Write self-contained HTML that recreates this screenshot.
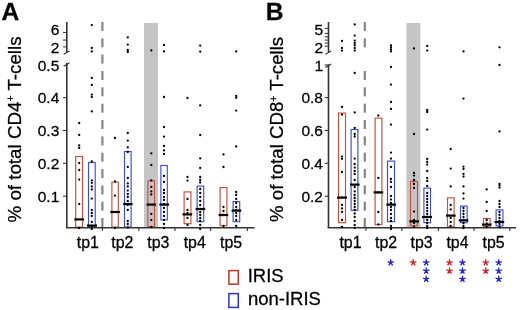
<!DOCTYPE html>
<html><head><meta charset="utf-8"><title>Figure</title>
<style>
html,body{margin:0;padding:0;background:#fff;}
body{width:520px;height:310px;overflow:hidden;}
svg{display:block;will-change:transform;}
text{font-family:"Liberation Sans",sans-serif;fill:#000;stroke:#000;stroke-width:0.27px;}
</style></head><body>
<svg width="520" height="310" viewBox="0 0 520 310">
<rect width="520" height="310" fill="#fff"/>
<g>
<rect x="144" y="23" width="14" height="204.5" fill="#c5c5c5"/>
<rect x="101.3" y="22" width="2.2" height="9.0" fill="#868686"/>
<rect x="101.3" y="38.3" width="2.2" height="9.0" fill="#868686"/>
<rect x="101.3" y="54.6" width="2.2" height="9.0" fill="#868686"/>
<rect x="101.3" y="71" width="2.2" height="9.0" fill="#868686"/>
<rect x="101.3" y="87.3" width="2.2" height="9.0" fill="#868686"/>
<rect x="101.3" y="103.7" width="2.2" height="9.0" fill="#868686"/>
<rect x="101.3" y="120" width="2.2" height="9.0" fill="#868686"/>
<rect x="101.3" y="136.4" width="2.2" height="9.0" fill="#868686"/>
<rect x="101.3" y="152.7" width="2.2" height="9.0" fill="#868686"/>
<rect x="101.3" y="169" width="2.2" height="9.0" fill="#868686"/>
<rect x="101.3" y="185.4" width="2.2" height="9.0" fill="#868686"/>
<rect x="101.3" y="201.7" width="2.2" height="9.0" fill="#868686"/>
<rect x="101.3" y="218" width="2.2" height="9.0" fill="#868686"/>
<rect x="75.7" y="156.5" width="6.8" height="70.6" fill="none" stroke="#c2503c" stroke-width="1.15"/>
<rect x="88.5" y="162.5" width="6.7" height="64.6" fill="none" stroke="#3e4ecb" stroke-width="1.15"/>
<rect x="111.9" y="182.1" width="6.4" height="45.0" fill="none" stroke="#c2503c" stroke-width="1.15"/>
<rect x="124.5" y="151.5" width="6.6" height="75.6" fill="none" stroke="#3e4ecb" stroke-width="1.15"/>
<rect x="147.9" y="180.9" width="6.6" height="45.8" fill="none" stroke="#c2503c" stroke-width="1.15"/>
<rect x="160.9" y="165.5" width="6.4" height="54.4" fill="none" stroke="#3e4ecb" stroke-width="1.15"/>
<rect x="184.1" y="191.9" width="6.8" height="31.8" fill="none" stroke="#c2503c" stroke-width="1.15"/>
<rect x="197.1" y="186.1" width="6.6" height="35.6" fill="none" stroke="#3e4ecb" stroke-width="1.15"/>
<rect x="220.1" y="187.5" width="6.8" height="38.2" fill="none" stroke="#c2503c" stroke-width="1.15"/>
<rect x="233.1" y="201.5" width="6.6" height="20.2" fill="none" stroke="#3e4ecb" stroke-width="1.15"/>
<path d="M66.8 22V52 M66.8 63.1V228" stroke="#333" stroke-width="1.6" fill="none"/>
<path d="M63.7 54.3L69.5 51 M63.7 66.2L69.5 62.8" stroke="#333" stroke-width="1.2" fill="none"/>
<path d="M65.9 227.8H254.5" stroke="#333" stroke-width="1.4" fill="none"/>
<path d="M102.4 227V231" stroke="#333" stroke-width="1.1"/>
<path d="M138.8 227V231" stroke="#333" stroke-width="1.1"/>
<path d="M175 227V231" stroke="#333" stroke-width="1.1"/>
<path d="M210.6 227V231" stroke="#333" stroke-width="1.1"/>
<path d="M247.4 227V231" stroke="#333" stroke-width="1.1"/>
<path d="M63.0 97.6H66.5" stroke="#333" stroke-width="1.1"/>
<path d="M63.0 130.5H66.5" stroke="#333" stroke-width="1.1"/>
<path d="M63.0 163.3H66.5" stroke="#333" stroke-width="1.1"/>
<path d="M63.0 196.2H66.5" stroke="#333" stroke-width="1.1"/>
<path d="M63.0 32.6H66.5" stroke="#333" stroke-width="1"/>
<path d="M63.0 40.1H66.5" stroke="#333" stroke-width="1"/>
<path d="M63.0 46.9H66.5" stroke="#333" stroke-width="1"/>
<circle cx="79.2" cy="123.0" r="1.15" fill="#000"/>
<circle cx="79.2" cy="135.0" r="1.15" fill="#000"/>
<circle cx="79.2" cy="145.4" r="1.15" fill="#000"/>
<circle cx="79.2" cy="148.0" r="1.15" fill="#000"/>
<circle cx="79.2" cy="163.0" r="1.15" fill="#000"/>
<circle cx="79.2" cy="170.0" r="1.15" fill="#000"/>
<circle cx="79.2" cy="179.6" r="1.15" fill="#000"/>
<circle cx="79.2" cy="204.0" r="1.15" fill="#000"/>
<circle cx="79.2" cy="228.0" r="1.15" fill="#000"/>
<circle cx="91.8" cy="25.1" r="1.15" fill="#000"/>
<circle cx="91.8" cy="48.0" r="1.15" fill="#000"/>
<circle cx="91.8" cy="51.4" r="1.15" fill="#000"/>
<circle cx="91.8" cy="78.0" r="1.15" fill="#000"/>
<circle cx="91.8" cy="85.0" r="1.15" fill="#000"/>
<circle cx="91.8" cy="94.6" r="1.15" fill="#000"/>
<circle cx="91.8" cy="97.0" r="1.15" fill="#000"/>
<circle cx="91.8" cy="111.4" r="1.15" fill="#000"/>
<circle cx="91.8" cy="161.5" r="1.15" fill="#000"/>
<circle cx="91.8" cy="180.4" r="1.15" fill="#000"/>
<circle cx="91.8" cy="182.8" r="1.15" fill="#000"/>
<circle cx="91.8" cy="186.4" r="1.15" fill="#000"/>
<circle cx="91.8" cy="189.4" r="1.15" fill="#000"/>
<circle cx="91.8" cy="198.6" r="1.15" fill="#000"/>
<circle cx="91.8" cy="210.0" r="1.15" fill="#000"/>
<circle cx="91.8" cy="213.0" r="1.15" fill="#000"/>
<circle cx="91.8" cy="216.0" r="1.15" fill="#000"/>
<circle cx="91.8" cy="222.0" r="1.15" fill="#000"/>
<circle cx="91.8" cy="226.0" r="1.15" fill="#000"/>
<circle cx="91.8" cy="229.0" r="1.15" fill="#000"/>
<circle cx="115.0" cy="138.0" r="1.15" fill="#000"/>
<circle cx="115.0" cy="181.4" r="1.15" fill="#000"/>
<circle cx="115.0" cy="195.6" r="1.15" fill="#000"/>
<circle cx="115.0" cy="228.0" r="1.15" fill="#000"/>
<circle cx="127.8" cy="37.4" r="1.15" fill="#000"/>
<circle cx="127.8" cy="44.6" r="1.15" fill="#000"/>
<circle cx="127.8" cy="50.0" r="1.15" fill="#000"/>
<circle cx="127.8" cy="52.0" r="1.15" fill="#000"/>
<circle cx="127.8" cy="133.0" r="1.15" fill="#000"/>
<circle cx="127.8" cy="140.6" r="1.15" fill="#000"/>
<circle cx="127.8" cy="147.4" r="1.15" fill="#000"/>
<circle cx="127.8" cy="152.0" r="1.15" fill="#000"/>
<circle cx="127.8" cy="167.0" r="1.15" fill="#000"/>
<circle cx="127.8" cy="178.0" r="1.15" fill="#000"/>
<circle cx="127.8" cy="183.4" r="1.15" fill="#000"/>
<circle cx="127.8" cy="186.4" r="1.15" fill="#000"/>
<circle cx="127.8" cy="190.6" r="1.15" fill="#000"/>
<circle cx="127.8" cy="194.0" r="1.15" fill="#000"/>
<circle cx="127.8" cy="197.0" r="1.15" fill="#000"/>
<circle cx="127.8" cy="201.0" r="1.15" fill="#000"/>
<circle cx="127.8" cy="205.0" r="1.15" fill="#000"/>
<circle cx="127.8" cy="210.0" r="1.15" fill="#000"/>
<circle cx="127.8" cy="221.0" r="1.15" fill="#000"/>
<circle cx="127.8" cy="224.0" r="1.15" fill="#000"/>
<circle cx="127.8" cy="227.5" r="1.15" fill="#000"/>
<circle cx="151.3" cy="50.4" r="1.15" fill="#000"/>
<circle cx="151.3" cy="153.4" r="1.15" fill="#000"/>
<circle cx="151.3" cy="165.0" r="1.15" fill="#000"/>
<circle cx="151.3" cy="180.4" r="1.15" fill="#000"/>
<circle cx="151.3" cy="187.0" r="1.15" fill="#000"/>
<circle cx="151.3" cy="191.4" r="1.15" fill="#000"/>
<circle cx="151.3" cy="194.5" r="1.15" fill="#000"/>
<circle cx="151.3" cy="214.0" r="1.15" fill="#000"/>
<circle cx="151.3" cy="220.0" r="1.15" fill="#000"/>
<circle cx="151.3" cy="227.0" r="1.15" fill="#000"/>
<circle cx="164.0" cy="45.0" r="1.15" fill="#000"/>
<circle cx="164.0" cy="51.4" r="1.15" fill="#000"/>
<circle cx="164.0" cy="97.0" r="1.15" fill="#000"/>
<circle cx="164.0" cy="127.0" r="1.15" fill="#000"/>
<circle cx="164.0" cy="136.6" r="1.15" fill="#000"/>
<circle cx="164.0" cy="146.0" r="1.15" fill="#000"/>
<circle cx="164.0" cy="150.4" r="1.15" fill="#000"/>
<circle cx="164.0" cy="154.0" r="1.15" fill="#000"/>
<circle cx="164.0" cy="176.0" r="1.15" fill="#000"/>
<circle cx="164.0" cy="182.0" r="1.15" fill="#000"/>
<circle cx="164.0" cy="190.0" r="1.15" fill="#000"/>
<circle cx="164.0" cy="193.0" r="1.15" fill="#000"/>
<circle cx="164.0" cy="197.0" r="1.15" fill="#000"/>
<circle cx="164.0" cy="200.0" r="1.15" fill="#000"/>
<circle cx="164.0" cy="204.0" r="1.15" fill="#000"/>
<circle cx="164.0" cy="208.0" r="1.15" fill="#000"/>
<circle cx="164.0" cy="212.0" r="1.15" fill="#000"/>
<circle cx="164.0" cy="216.0" r="1.15" fill="#000"/>
<circle cx="164.0" cy="220.0" r="1.15" fill="#000"/>
<circle cx="164.0" cy="224.0" r="1.15" fill="#000"/>
<circle cx="164.0" cy="228.0" r="1.15" fill="#000"/>
<circle cx="187.5" cy="98.0" r="1.15" fill="#000"/>
<circle cx="187.5" cy="177.0" r="1.15" fill="#000"/>
<circle cx="187.5" cy="180.6" r="1.15" fill="#000"/>
<circle cx="187.5" cy="199.0" r="1.15" fill="#000"/>
<circle cx="187.5" cy="210.0" r="1.15" fill="#000"/>
<circle cx="187.5" cy="213.0" r="1.15" fill="#000"/>
<circle cx="187.5" cy="218.0" r="1.15" fill="#000"/>
<circle cx="187.5" cy="225.0" r="1.15" fill="#000"/>
<circle cx="200.2" cy="45.6" r="1.15" fill="#000"/>
<circle cx="200.2" cy="51.6" r="1.15" fill="#000"/>
<circle cx="200.2" cy="105.4" r="1.15" fill="#000"/>
<circle cx="200.2" cy="135.0" r="1.15" fill="#000"/>
<circle cx="200.2" cy="158.4" r="1.15" fill="#000"/>
<circle cx="200.2" cy="168.0" r="1.15" fill="#000"/>
<circle cx="200.2" cy="177.0" r="1.15" fill="#000"/>
<circle cx="200.2" cy="180.0" r="1.15" fill="#000"/>
<circle cx="200.2" cy="182.5" r="1.15" fill="#000"/>
<circle cx="200.2" cy="189.0" r="1.15" fill="#000"/>
<circle cx="200.2" cy="193.0" r="1.15" fill="#000"/>
<circle cx="200.2" cy="197.0" r="1.15" fill="#000"/>
<circle cx="200.2" cy="201.0" r="1.15" fill="#000"/>
<circle cx="200.2" cy="205.0" r="1.15" fill="#000"/>
<circle cx="200.2" cy="209.0" r="1.15" fill="#000"/>
<circle cx="200.2" cy="212.0" r="1.15" fill="#000"/>
<circle cx="200.2" cy="215.0" r="1.15" fill="#000"/>
<circle cx="200.2" cy="218.0" r="1.15" fill="#000"/>
<circle cx="200.2" cy="221.0" r="1.15" fill="#000"/>
<circle cx="200.2" cy="225.0" r="1.15" fill="#000"/>
<circle cx="200.2" cy="229.0" r="1.15" fill="#000"/>
<circle cx="223.5" cy="154.4" r="1.15" fill="#000"/>
<circle cx="223.5" cy="167.0" r="1.15" fill="#000"/>
<circle cx="223.5" cy="207.0" r="1.15" fill="#000"/>
<circle cx="223.5" cy="211.0" r="1.15" fill="#000"/>
<circle cx="223.5" cy="215.0" r="1.15" fill="#000"/>
<circle cx="223.5" cy="226.0" r="1.15" fill="#000"/>
<circle cx="236.2" cy="51.4" r="1.15" fill="#000"/>
<circle cx="236.2" cy="96.0" r="1.15" fill="#000"/>
<circle cx="236.2" cy="97.8" r="1.15" fill="#000"/>
<circle cx="236.2" cy="110.6" r="1.15" fill="#000"/>
<circle cx="236.2" cy="146.5" r="1.15" fill="#000"/>
<circle cx="236.2" cy="192.0" r="1.15" fill="#000"/>
<circle cx="236.2" cy="195.0" r="1.15" fill="#000"/>
<circle cx="236.2" cy="199.0" r="1.15" fill="#000"/>
<circle cx="236.2" cy="203.0" r="1.15" fill="#000"/>
<circle cx="236.2" cy="207.0" r="1.15" fill="#000"/>
<circle cx="236.2" cy="210.0" r="1.15" fill="#000"/>
<circle cx="236.2" cy="213.0" r="1.15" fill="#000"/>
<circle cx="236.2" cy="216.0" r="1.15" fill="#000"/>
<circle cx="236.2" cy="220.0" r="1.15" fill="#000"/>
<circle cx="236.2" cy="226.0" r="1.15" fill="#000"/>
<rect x="74.4" y="218.3" width="9.6" height="2.2" fill="#000"/>
<rect x="87.0" y="224.5" width="10.0" height="2.2" fill="#000"/>
<rect x="110.4" y="210.9" width="9.6" height="2.2" fill="#000"/>
<rect x="123.2" y="202.9" width="9.4" height="2.2" fill="#000"/>
<rect x="146.6" y="203.5" width="9.4" height="2.2" fill="#000"/>
<rect x="159.4" y="203.5" width="9.6" height="2.2" fill="#000"/>
<rect x="182.6" y="213.3" width="9.6" height="2.2" fill="#000"/>
<rect x="195.6" y="207.9" width="9.6" height="2.2" fill="#000"/>
<rect x="218.6" y="213.9" width="9.6" height="2.2" fill="#000"/>
<rect x="231.6" y="209.5" width="9.6" height="2.2" fill="#000"/>
<text x="59.3" y="70.6" font-size="15.5" text-anchor="end">0.5</text>
<text x="59.3" y="103.4" font-size="15.5" text-anchor="end">0.4</text>
<text x="59.3" y="136.4" font-size="15.5" text-anchor="end">0.3</text>
<text x="59.3" y="169.2" font-size="15.5" text-anchor="end">0.2</text>
<text x="59.3" y="202.1" font-size="15.5" text-anchor="end">0.1</text>
<text x="59.3" y="35.2" font-size="15.5" text-anchor="end">6</text>
<text x="59.3" y="52.5" font-size="15.5" text-anchor="end">2</text>
<text x="76.8" y="247.8" font-size="15.9">tp1</text>
<text x="111.3" y="247.8" font-size="15.9">tp2</text>
<text x="147.3" y="247.8" font-size="15.9">tp3</text>
<text x="183.7" y="247.8" font-size="15.9">tp4</text>
<text x="220.1" y="247.8" font-size="15.9">tp5</text>
</g>
<g>
<rect x="406.4" y="23" width="14.0" height="204.5" fill="#c5c5c5"/>
<rect x="363.7" y="22" width="2.2" height="9.0" fill="#868686"/>
<rect x="363.7" y="38.3" width="2.2" height="9.0" fill="#868686"/>
<rect x="363.7" y="71" width="2.2" height="9.0" fill="#868686"/>
<rect x="363.7" y="87.3" width="2.2" height="9.0" fill="#868686"/>
<rect x="363.7" y="103.7" width="2.2" height="9.0" fill="#868686"/>
<rect x="363.7" y="120" width="2.2" height="9.0" fill="#868686"/>
<rect x="363.7" y="136.4" width="2.2" height="9.0" fill="#868686"/>
<rect x="363.7" y="152.7" width="2.2" height="9.0" fill="#868686"/>
<rect x="363.7" y="169" width="2.2" height="9.0" fill="#868686"/>
<rect x="363.7" y="185.4" width="2.2" height="9.0" fill="#868686"/>
<rect x="363.7" y="201.7" width="2.2" height="9.0" fill="#868686"/>
<rect x="363.7" y="218" width="2.2" height="9.0" fill="#868686"/>
<rect x="338.5" y="113.1" width="7.0" height="109.6" fill="none" stroke="#c2503c" stroke-width="1.15"/>
<rect x="351.1" y="129.5" width="6.8" height="80.8" fill="none" stroke="#3e4ecb" stroke-width="1.15"/>
<rect x="375.1" y="118.1" width="6.8" height="106.6" fill="none" stroke="#c2503c" stroke-width="1.15"/>
<rect x="387.5" y="161.1" width="7.0" height="60.6" fill="none" stroke="#3e4ecb" stroke-width="1.15"/>
<rect x="410.5" y="181.5" width="7.0" height="44.2" fill="none" stroke="#c2503c" stroke-width="1.15"/>
<rect x="423.9" y="188.1" width="6.6" height="34.6" fill="none" stroke="#3e4ecb" stroke-width="1.15"/>
<rect x="447.5" y="197.9" width="6.6" height="28.8" fill="none" stroke="#c2503c" stroke-width="1.15"/>
<rect x="460.5" y="206.1" width="6.6" height="16.6" fill="none" stroke="#3e4ecb" stroke-width="1.15"/>
<rect x="483.5" y="218.5" width="6.6" height="8.2" fill="none" stroke="#c2503c" stroke-width="1.15"/>
<rect x="496.1" y="209.9" width="6.8" height="16.0" fill="none" stroke="#3e4ecb" stroke-width="1.15"/>
<path d="M328.5 22V52 M328.5 64.3V228" stroke="#333" stroke-width="1.6" fill="none"/>
<path d="M325.4 54.3L331.2 51 M325.4 67.4L331.2 64.0" stroke="#333" stroke-width="1.2" fill="none"/>
<path d="M324.7 65H328.2" stroke="#333" stroke-width="1.1"/>
<path d="M327.59999999999997 227.8H516" stroke="#333" stroke-width="1.4" fill="none"/>
<path d="M366 227V231" stroke="#333" stroke-width="1.1"/>
<path d="M401.8 227V231" stroke="#333" stroke-width="1.1"/>
<path d="M438.4 227V231" stroke="#333" stroke-width="1.1"/>
<path d="M474 227V231" stroke="#333" stroke-width="1.1"/>
<path d="M509.8 227V231" stroke="#333" stroke-width="1.1"/>
<path d="M324.7 97.6H328.2" stroke="#333" stroke-width="1.1"/>
<path d="M324.7 130.5H328.2" stroke="#333" stroke-width="1.1"/>
<path d="M324.7 163.3H328.2" stroke="#333" stroke-width="1.1"/>
<path d="M324.7 196.2H328.2" stroke="#333" stroke-width="1.1"/>
<path d="M324.7 28.4H328.2" stroke="#333" stroke-width="1"/>
<path d="M324.7 33.4H328.2" stroke="#333" stroke-width="1"/>
<path d="M324.7 36.8H328.2" stroke="#333" stroke-width="1"/>
<path d="M324.7 40.1H328.2" stroke="#333" stroke-width="1"/>
<path d="M324.7 43H328.2" stroke="#333" stroke-width="1"/>
<path d="M324.7 46.2H328.2" stroke="#333" stroke-width="1"/>
<circle cx="342.0" cy="41.0" r="1.15" fill="#000"/>
<circle cx="342.0" cy="48.0" r="1.15" fill="#000"/>
<circle cx="342.0" cy="50.6" r="1.15" fill="#000"/>
<circle cx="342.0" cy="107.0" r="1.15" fill="#000"/>
<circle cx="342.0" cy="114.6" r="1.15" fill="#000"/>
<circle cx="342.0" cy="156.6" r="1.15" fill="#000"/>
<circle cx="342.0" cy="158.8" r="1.15" fill="#000"/>
<circle cx="342.0" cy="172.0" r="1.15" fill="#000"/>
<circle cx="342.0" cy="197.6" r="1.15" fill="#000"/>
<circle cx="342.0" cy="205.0" r="1.15" fill="#000"/>
<circle cx="342.0" cy="208.4" r="1.15" fill="#000"/>
<circle cx="342.0" cy="212.0" r="1.15" fill="#000"/>
<circle cx="342.0" cy="220.0" r="1.15" fill="#000"/>
<circle cx="342.0" cy="227.0" r="1.15" fill="#000"/>
<circle cx="354.7" cy="24.4" r="1.15" fill="#000"/>
<circle cx="354.7" cy="35.6" r="1.15" fill="#000"/>
<circle cx="354.7" cy="40.6" r="1.15" fill="#000"/>
<circle cx="354.7" cy="43.0" r="1.15" fill="#000"/>
<circle cx="354.7" cy="45.2" r="1.15" fill="#000"/>
<circle cx="354.7" cy="48.0" r="1.15" fill="#000"/>
<circle cx="354.7" cy="50.6" r="1.15" fill="#000"/>
<circle cx="354.7" cy="73.0" r="1.15" fill="#000"/>
<circle cx="354.7" cy="112.4" r="1.15" fill="#000"/>
<circle cx="354.7" cy="128.0" r="1.15" fill="#000"/>
<circle cx="354.7" cy="134.0" r="1.15" fill="#000"/>
<circle cx="354.7" cy="136.5" r="1.15" fill="#000"/>
<circle cx="354.7" cy="158.6" r="1.15" fill="#000"/>
<circle cx="354.7" cy="164.0" r="1.15" fill="#000"/>
<circle cx="354.7" cy="167.6" r="1.15" fill="#000"/>
<circle cx="354.7" cy="171.0" r="1.15" fill="#000"/>
<circle cx="354.7" cy="174.0" r="1.15" fill="#000"/>
<circle cx="354.7" cy="180.0" r="1.15" fill="#000"/>
<circle cx="354.7" cy="187.0" r="1.15" fill="#000"/>
<circle cx="354.7" cy="191.4" r="1.15" fill="#000"/>
<circle cx="354.7" cy="195.0" r="1.15" fill="#000"/>
<circle cx="354.7" cy="198.0" r="1.15" fill="#000"/>
<circle cx="354.7" cy="201.0" r="1.15" fill="#000"/>
<circle cx="354.7" cy="204.0" r="1.15" fill="#000"/>
<circle cx="354.7" cy="207.0" r="1.15" fill="#000"/>
<circle cx="354.7" cy="210.0" r="1.15" fill="#000"/>
<circle cx="354.7" cy="213.5" r="1.15" fill="#000"/>
<circle cx="354.7" cy="217.0" r="1.15" fill="#000"/>
<circle cx="354.7" cy="221.0" r="1.15" fill="#000"/>
<circle cx="354.7" cy="225.0" r="1.15" fill="#000"/>
<circle cx="354.7" cy="228.0" r="1.15" fill="#000"/>
<circle cx="378.3" cy="115.5" r="1.15" fill="#000"/>
<circle cx="378.3" cy="178.0" r="1.15" fill="#000"/>
<circle cx="378.3" cy="192.4" r="1.15" fill="#000"/>
<circle cx="378.3" cy="212.0" r="1.15" fill="#000"/>
<circle cx="378.3" cy="224.4" r="1.15" fill="#000"/>
<circle cx="391.0" cy="45.4" r="1.15" fill="#000"/>
<circle cx="391.0" cy="47.4" r="1.15" fill="#000"/>
<circle cx="391.0" cy="49.4" r="1.15" fill="#000"/>
<circle cx="391.0" cy="51.4" r="1.15" fill="#000"/>
<circle cx="391.0" cy="67.0" r="1.15" fill="#000"/>
<circle cx="391.0" cy="84.6" r="1.15" fill="#000"/>
<circle cx="391.0" cy="102.0" r="1.15" fill="#000"/>
<circle cx="391.0" cy="109.0" r="1.15" fill="#000"/>
<circle cx="391.0" cy="124.6" r="1.15" fill="#000"/>
<circle cx="391.0" cy="152.6" r="1.15" fill="#000"/>
<circle cx="391.0" cy="158.6" r="1.15" fill="#000"/>
<circle cx="391.0" cy="167.0" r="1.15" fill="#000"/>
<circle cx="391.0" cy="179.0" r="1.15" fill="#000"/>
<circle cx="391.0" cy="182.0" r="1.15" fill="#000"/>
<circle cx="391.0" cy="187.0" r="1.15" fill="#000"/>
<circle cx="391.0" cy="196.0" r="1.15" fill="#000"/>
<circle cx="391.0" cy="199.6" r="1.15" fill="#000"/>
<circle cx="391.0" cy="203.0" r="1.15" fill="#000"/>
<circle cx="391.0" cy="207.0" r="1.15" fill="#000"/>
<circle cx="391.0" cy="210.0" r="1.15" fill="#000"/>
<circle cx="391.0" cy="214.0" r="1.15" fill="#000"/>
<circle cx="391.0" cy="218.0" r="1.15" fill="#000"/>
<circle cx="391.0" cy="221.0" r="1.15" fill="#000"/>
<circle cx="391.0" cy="226.0" r="1.15" fill="#000"/>
<circle cx="391.0" cy="229.0" r="1.15" fill="#000"/>
<circle cx="414.0" cy="48.4" r="1.15" fill="#000"/>
<circle cx="414.0" cy="134.0" r="1.15" fill="#000"/>
<circle cx="414.0" cy="173.0" r="1.15" fill="#000"/>
<circle cx="414.0" cy="175.6" r="1.15" fill="#000"/>
<circle cx="414.0" cy="180.0" r="1.15" fill="#000"/>
<circle cx="414.0" cy="184.0" r="1.15" fill="#000"/>
<circle cx="414.0" cy="188.0" r="1.15" fill="#000"/>
<circle cx="414.0" cy="211.6" r="1.15" fill="#000"/>
<circle cx="414.0" cy="220.0" r="1.15" fill="#000"/>
<circle cx="414.0" cy="223.0" r="1.15" fill="#000"/>
<circle cx="414.0" cy="227.0" r="1.15" fill="#000"/>
<circle cx="427.2" cy="46.0" r="1.15" fill="#000"/>
<circle cx="427.2" cy="50.6" r="1.15" fill="#000"/>
<circle cx="427.2" cy="110.0" r="1.15" fill="#000"/>
<circle cx="427.2" cy="112.0" r="1.15" fill="#000"/>
<circle cx="427.2" cy="129.6" r="1.15" fill="#000"/>
<circle cx="427.2" cy="159.0" r="1.15" fill="#000"/>
<circle cx="427.2" cy="162.0" r="1.15" fill="#000"/>
<circle cx="427.2" cy="164.6" r="1.15" fill="#000"/>
<circle cx="427.2" cy="171.0" r="1.15" fill="#000"/>
<circle cx="427.2" cy="178.0" r="1.15" fill="#000"/>
<circle cx="427.2" cy="181.0" r="1.15" fill="#000"/>
<circle cx="427.2" cy="186.0" r="1.15" fill="#000"/>
<circle cx="427.2" cy="193.0" r="1.15" fill="#000"/>
<circle cx="427.2" cy="196.0" r="1.15" fill="#000"/>
<circle cx="427.2" cy="199.0" r="1.15" fill="#000"/>
<circle cx="427.2" cy="202.0" r="1.15" fill="#000"/>
<circle cx="427.2" cy="205.0" r="1.15" fill="#000"/>
<circle cx="427.2" cy="208.0" r="1.15" fill="#000"/>
<circle cx="427.2" cy="211.0" r="1.15" fill="#000"/>
<circle cx="427.2" cy="214.0" r="1.15" fill="#000"/>
<circle cx="427.2" cy="217.0" r="1.15" fill="#000"/>
<circle cx="427.2" cy="220.0" r="1.15" fill="#000"/>
<circle cx="427.2" cy="223.0" r="1.15" fill="#000"/>
<circle cx="427.2" cy="226.0" r="1.15" fill="#000"/>
<circle cx="427.2" cy="228.0" r="1.15" fill="#000"/>
<circle cx="450.7" cy="149.0" r="1.15" fill="#000"/>
<circle cx="450.7" cy="168.6" r="1.15" fill="#000"/>
<circle cx="450.7" cy="186.4" r="1.15" fill="#000"/>
<circle cx="450.7" cy="205.0" r="1.15" fill="#000"/>
<circle cx="450.7" cy="209.4" r="1.15" fill="#000"/>
<circle cx="450.7" cy="218.0" r="1.15" fill="#000"/>
<circle cx="450.7" cy="222.0" r="1.15" fill="#000"/>
<circle cx="450.7" cy="226.0" r="1.15" fill="#000"/>
<circle cx="463.5" cy="51.4" r="1.15" fill="#000"/>
<circle cx="463.5" cy="98.6" r="1.15" fill="#000"/>
<circle cx="463.5" cy="166.6" r="1.15" fill="#000"/>
<circle cx="463.5" cy="169.0" r="1.15" fill="#000"/>
<circle cx="463.5" cy="174.0" r="1.15" fill="#000"/>
<circle cx="463.5" cy="176.6" r="1.15" fill="#000"/>
<circle cx="463.5" cy="186.4" r="1.15" fill="#000"/>
<circle cx="463.5" cy="193.5" r="1.15" fill="#000"/>
<circle cx="463.5" cy="198.6" r="1.15" fill="#000"/>
<circle cx="463.5" cy="208.0" r="1.15" fill="#000"/>
<circle cx="463.5" cy="211.0" r="1.15" fill="#000"/>
<circle cx="463.5" cy="214.0" r="1.15" fill="#000"/>
<circle cx="463.5" cy="217.0" r="1.15" fill="#000"/>
<circle cx="463.5" cy="220.0" r="1.15" fill="#000"/>
<circle cx="463.5" cy="223.0" r="1.15" fill="#000"/>
<circle cx="463.5" cy="226.0" r="1.15" fill="#000"/>
<circle cx="463.5" cy="228.0" r="1.15" fill="#000"/>
<circle cx="486.7" cy="189.4" r="1.15" fill="#000"/>
<circle cx="486.7" cy="202.0" r="1.15" fill="#000"/>
<circle cx="486.7" cy="211.0" r="1.15" fill="#000"/>
<circle cx="486.7" cy="220.0" r="1.15" fill="#000"/>
<circle cx="486.7" cy="223.5" r="1.15" fill="#000"/>
<circle cx="486.7" cy="227.0" r="1.15" fill="#000"/>
<circle cx="499.5" cy="47.3" r="1.15" fill="#000"/>
<circle cx="499.5" cy="65.0" r="1.15" fill="#000"/>
<circle cx="499.5" cy="131.4" r="1.15" fill="#000"/>
<circle cx="499.5" cy="184.0" r="1.15" fill="#000"/>
<circle cx="499.5" cy="185.6" r="1.15" fill="#000"/>
<circle cx="499.5" cy="187.6" r="1.15" fill="#000"/>
<circle cx="499.5" cy="201.0" r="1.15" fill="#000"/>
<circle cx="499.5" cy="204.0" r="1.15" fill="#000"/>
<circle cx="499.5" cy="207.0" r="1.15" fill="#000"/>
<circle cx="499.5" cy="212.0" r="1.15" fill="#000"/>
<circle cx="499.5" cy="215.0" r="1.15" fill="#000"/>
<circle cx="499.5" cy="218.0" r="1.15" fill="#000"/>
<circle cx="499.5" cy="221.0" r="1.15" fill="#000"/>
<circle cx="499.5" cy="224.0" r="1.15" fill="#000"/>
<circle cx="499.5" cy="227.0" r="1.15" fill="#000"/>
<rect x="337.0" y="196.5" width="10.0" height="2.2" fill="#000"/>
<rect x="350.0" y="183.5" width="9.6" height="2.2" fill="#000"/>
<rect x="373.6" y="191.3" width="9.6" height="2.2" fill="#000"/>
<rect x="386.4" y="203.5" width="9.6" height="2.2" fill="#000"/>
<rect x="409.4" y="220.3" width="9.6" height="2.2" fill="#000"/>
<rect x="422.0" y="215.9" width="10.0" height="2.2" fill="#000"/>
<rect x="446.0" y="214.5" width="9.6" height="2.2" fill="#000"/>
<rect x="458.8" y="219.3" width="9.6" height="2.2" fill="#000"/>
<rect x="482.0" y="223.5" width="9.6" height="2.2" fill="#000"/>
<rect x="494.6" y="220.9" width="9.6" height="2.2" fill="#000"/>
<text x="323.0" y="70.7" font-size="15.5" text-anchor="end">1</text>
<text x="323.0" y="103.4" font-size="15.5" text-anchor="end">0.8</text>
<text x="323.0" y="136.4" font-size="15.5" text-anchor="end">0.6</text>
<text x="323.0" y="169.2" font-size="15.5" text-anchor="end">0.4</text>
<text x="323.0" y="202.1" font-size="15.5" text-anchor="end">0.2</text>
<text x="323.0" y="35.3" font-size="15.5" text-anchor="end">5</text>
<text x="323.0" y="53.3" font-size="15.5" text-anchor="end">2</text>
<text x="339.4" y="247.8" font-size="15.9">tp1</text>
<text x="375.0" y="247.8" font-size="15.9">tp2</text>
<text x="410.6" y="247.8" font-size="15.9">tp3</text>
<text x="446.4" y="247.8" font-size="15.9">tp4</text>
<text x="482.5" y="247.8" font-size="15.9">tp5</text>
</g>
<text x="1.6" y="19.7" font-size="24.6" font-weight="bold">A</text>
<text x="265.7" y="19.7" font-size="24.6" font-weight="bold">B</text>
<text transform="translate(20.5,222.5) rotate(-90)" font-size="18.75">% of total CD4<tspan dy="-6.2" font-size="10.5">+</tspan><tspan dy="6.2"> T-cells</tspan></text>
<text transform="translate(283.4,221.9) rotate(-90)" font-size="18.65">% of total CD8<tspan dy="-6.2" font-size="10.5">+</tspan><tspan dy="6.2"> T-cells</tspan></text>
<rect x="228.9" y="270.6" width="9.4" height="13.6" fill="none" stroke="#b93a24" stroke-width="1.5"/>
<rect x="228.9" y="293.6" width="9.4" height="13.8" fill="none" stroke="#2b35c4" stroke-width="1.5"/>
<text x="247.7" y="282.0" font-size="18.5">IRIS</text>
<text x="247.9" y="304.9" font-size="18.5">non-IRIS</text>
<path d="M390.70 262.65L390.70 259.35 M390.70 262.65L393.84 261.63 M390.70 262.65L392.64 265.32 M390.70 262.65L388.76 265.32 M390.70 262.65L387.56 261.63" stroke="#2020d0" stroke-width="1.35" fill="none"/>
<path d="M413.20 262.65L413.20 259.35 M413.20 262.65L416.34 261.63 M413.20 262.65L415.14 265.32 M413.20 262.65L411.26 265.32 M413.20 262.65L410.06 261.63" stroke="#cc2222" stroke-width="1.35" fill="none"/>
<path d="M426.20 262.65L426.20 259.35 M426.20 262.65L429.34 261.63 M426.20 262.65L428.14 265.32 M426.20 262.65L424.26 265.32 M426.20 262.65L423.06 261.63" stroke="#2020d0" stroke-width="1.35" fill="none"/>
<path d="M426.20 270.90L426.20 267.60 M426.20 270.90L429.34 269.88 M426.20 270.90L428.14 273.57 M426.20 270.90L424.26 273.57 M426.20 270.90L423.06 269.88" stroke="#2020d0" stroke-width="1.35" fill="none"/>
<path d="M426.20 279.15L426.20 275.85 M426.20 279.15L429.34 278.13 M426.20 279.15L428.14 281.82 M426.20 279.15L424.26 281.82 M426.20 279.15L423.06 278.13" stroke="#2020d0" stroke-width="1.35" fill="none"/>
<path d="M449.50 262.65L449.50 259.35 M449.50 262.65L452.64 261.63 M449.50 262.65L451.44 265.32 M449.50 262.65L447.56 265.32 M449.50 262.65L446.36 261.63" stroke="#cc2222" stroke-width="1.35" fill="none"/>
<path d="M449.50 270.90L449.50 267.60 M449.50 270.90L452.64 269.88 M449.50 270.90L451.44 273.57 M449.50 270.90L447.56 273.57 M449.50 270.90L446.36 269.88" stroke="#cc2222" stroke-width="1.35" fill="none"/>
<path d="M462.50 262.65L462.50 259.35 M462.50 262.65L465.64 261.63 M462.50 262.65L464.44 265.32 M462.50 262.65L460.56 265.32 M462.50 262.65L459.36 261.63" stroke="#2020d0" stroke-width="1.35" fill="none"/>
<path d="M462.50 270.90L462.50 267.60 M462.50 270.90L465.64 269.88 M462.50 270.90L464.44 273.57 M462.50 270.90L460.56 273.57 M462.50 270.90L459.36 269.88" stroke="#2020d0" stroke-width="1.35" fill="none"/>
<path d="M462.50 279.15L462.50 275.85 M462.50 279.15L465.64 278.13 M462.50 279.15L464.44 281.82 M462.50 279.15L460.56 281.82 M462.50 279.15L459.36 278.13" stroke="#2020d0" stroke-width="1.35" fill="none"/>
<path d="M485.70 262.65L485.70 259.35 M485.70 262.65L488.84 261.63 M485.70 262.65L487.64 265.32 M485.70 262.65L483.76 265.32 M485.70 262.65L482.56 261.63" stroke="#cc2222" stroke-width="1.35" fill="none"/>
<path d="M485.70 270.90L485.70 267.60 M485.70 270.90L488.84 269.88 M485.70 270.90L487.64 273.57 M485.70 270.90L483.76 273.57 M485.70 270.90L482.56 269.88" stroke="#cc2222" stroke-width="1.35" fill="none"/>
<path d="M498.70 262.65L498.70 259.35 M498.70 262.65L501.84 261.63 M498.70 262.65L500.64 265.32 M498.70 262.65L496.76 265.32 M498.70 262.65L495.56 261.63" stroke="#2020d0" stroke-width="1.35" fill="none"/>
<path d="M498.70 270.90L498.70 267.60 M498.70 270.90L501.84 269.88 M498.70 270.90L500.64 273.57 M498.70 270.90L496.76 273.57 M498.70 270.90L495.56 269.88" stroke="#2020d0" stroke-width="1.35" fill="none"/>
<path d="M498.70 279.15L498.70 275.85 M498.70 279.15L501.84 278.13 M498.70 279.15L500.64 281.82 M498.70 279.15L496.76 281.82 M498.70 279.15L495.56 278.13" stroke="#2020d0" stroke-width="1.35" fill="none"/>
</svg>
</body></html>
